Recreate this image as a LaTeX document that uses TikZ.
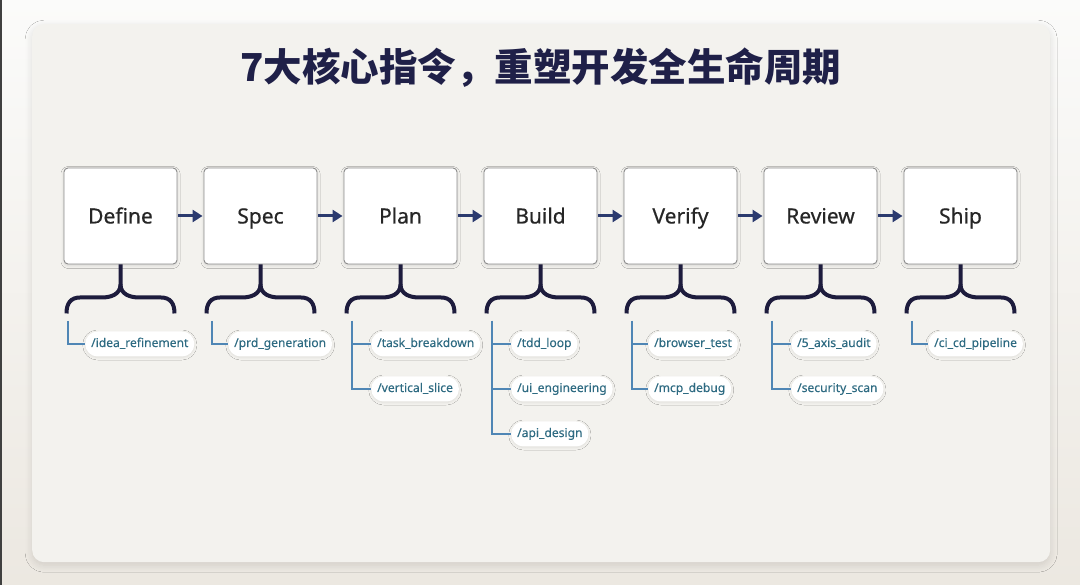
\documentclass[tikz,border=0pt]{standalone}
\usepackage{fontspec}
\setmainfont{Noto Sans}
\newfontfamily\stagefont{Noto Sans}[FakeBold=0.5]
\newfontfamily\pillfont{Noto Sans}[FakeBold=0.25]
\newfontfamily\cjk{Noto Sans CJK SC}
\usetikzlibrary{arrows.meta,shadows.blur,calc}
\definecolor{cardfill}{HTML}{F3F2EE}
\definecolor{bgtop}{HTML}{FBFBFA}
\definecolor{bgbot}{HTML}{ECE8E1}
\definecolor{boxborder}{HTML}{8C8C8C}
\definecolor{stagetext}{HTML}{262626}
\definecolor{arrowc}{HTML}{2B3A6E}
\definecolor{bracec}{HTML}{1D1C3D}
\definecolor{treec}{HTML}{4F86B5}
\definecolor{pilltext}{HTML}{2E6B82}
\definecolor{titlec}{HTML}{1F2048}
\begin{document}
\begin{tikzpicture}[x=1pt,y=-1pt,
  stage/.style={draw=boxborder, line width=0.9pt, fill=white, rounded corners=4pt,
    minimum width=113pt, minimum height=96pt, inner sep=0pt,
    text height=18pt, text depth=3pt,
    font=\stagefont\fontsize{21}{26}\selectfont, text=stagetext,
    blur shadow={shadow blur steps=6, shadow xshift=0pt, shadow yshift=-1.5pt, shadow opacity=12, shadow blur radius=3pt}},
  pill/.style={fill=white, rounded corners=12.5pt, minimum height=25pt, inner xsep=6pt, inner ysep=0pt,
    text height=9pt, text depth=3pt,
    font=\pillfont\fontsize{12.1}{14}\selectfont, text=pilltext, anchor=west,
    blur shadow={shadow blur steps=5, shadow xshift=0pt, shadow yshift=-1pt, shadow opacity=8, shadow blur radius=2.5pt}},
  flow/.style={draw=arrowc, line width=3pt, -{Triangle[length=10pt,width=12pt]}, shorten <=1pt, shorten >=1pt},
  bracepath/.style={draw=bracec, line width=4pt},
  tree/.style={draw=treec, line width=2pt},
  card/.style={fill=cardfill, rounded corners=12pt,
    blur shadow={shadow blur steps=10, shadow xshift=0pt, shadow yshift=-3pt, shadow opacity=12, shadow blur radius=7pt}}
]
\useasboundingbox (0,0) rectangle (1080,585);
\shade[top color=bgtop, bottom color=bgbot] (0,0) rectangle (1080,585);
\fill[black!75] (0,0) rectangle (1.5,585);
\node[card, minimum width=1018pt, minimum height=538pt, inner sep=0pt, anchor=north west] (cardbox) at (32,24) {};

\node[font=\cjk\bfseries\fontsize{38.5}{44}\selectfont, text=titlec] (title) at (541,68) {7大核心指令，重塑开发全生命周期};

\foreach \n/\lab [count=\i from 0] in {d/Define, s/Spec, p/Plan, b/Build, v/Verify, r/Review, h/Ship} {
  \node[stage] (\n) at (120.5+140*\i, 216) {\lab};
  \coordinate (\n stem) at ($(\n.south)+(0,20)$);
  \draw[bracepath] (\n.south) -- (\n stem)
     .. controls +(0,10) and +(8,0) .. ++(-18,13) -- ++(-22,0)
     .. controls +(-10,0) and +(0,-10) .. ++(-14,16);
  \draw[bracepath] (\n stem)
     .. controls +(0,10) and +(-8,0) .. ++(18,13) -- ++(22,0)
     .. controls +(10,0) and +(0,-10) .. ++(14,16);
}
\foreach \a/\b in {d/s, s/p, p/b, b/v, v/r, r/h} {
  \draw[flow] (\a.east) -- (\b.west);
}

% tree roots
\coordinate (dt) at (68,321);
\coordinate (st) at (212,321);
\coordinate (pt) at (352,321);
\coordinate (bt) at (492,321);
\coordinate (vt) at (632,321);
\coordinate (rt) at (772,321);
\coordinate (ht) at (912,321);

% pills
\node[pill] (d1) at (85,344) {/idea\_refinement};
\node[pill] (s1) at (228,344) {/prd\_generation};
\node[pill] (p1) at (371,344) {/task\_breakdown};
\node[pill] (p2) at (371,389) {/vertical\_slice};
\node[pill] (b1) at (511,344) {/tdd\_loop};
\node[pill] (b2) at (511,389) {/ui\_engineering};
\node[pill] (b3) at (511,434) {/api\_design};
\node[pill] (v1) at (648,344) {/browser\_test};
\node[pill] (v2) at (648,389) {/mcp\_debug};
\node[pill] (r1) at (791,344) {/5\_axis\_audit};
\node[pill] (r2) at (791,389) {/security\_scan};
\node[pill] (h1) at (928,344) {/ci\_cd\_pipeline};

\foreach \r/\p in {dt/d1, st/s1, pt/p1, pt/p2, bt/b1, bt/b2, bt/b3, vt/v1, vt/v2, rt/r1, rt/r2, ht/h1} {
  \draw[tree] (\r) |- (\p.west);
}
\end{tikzpicture}
\end{document}
